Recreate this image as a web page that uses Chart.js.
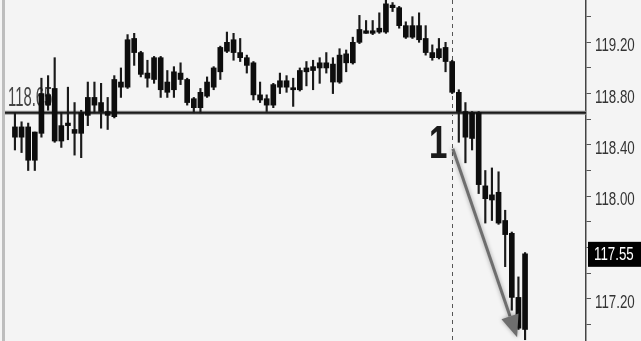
<!DOCTYPE html>
<html>
<head>
<meta charset="utf-8">
<script src="https://cdn.jsdelivr.net/npm/chart.js@4.4.1/dist/chart.umd.min.js"></script>
<style>
  html, body { margin: 0; padding: 0; background: #f4f4f4; overflow: hidden; }
  #wrap { width: 641px; height: 341px; }
</style>
</head>
<body>
<div id="wrap"><canvas id="chart"></canvas></div>
<script>
// candle values (one entry per bar)
const opens  = [118.54,118.46,118.54,118.28,118.49,118.79,118.84,118.43,118.55,118.52,
                118.49,118.63,118.77,118.73,118.66,118.62,118.89,118.85,119.23,119.12,
                118.96,118.91,119.08,118.81,118.83,118.96,118.91,118.76,118.69,118.78,
                118.85,118.97,119.13,119.22,119.12,119.08,119.04,118.79,118.76,118.71,
                118.85,118.90,118.84,118.83,118.97,118.98,119.00,119.04,119.03,118.89,
                119.11,119.04,119.20,119.29,119.27,119.28,119.28,119.49,119.47,119.33,
                119.24,119.33,119.23,119.12,119.08,119.16,119.05,118.81,118.66,118.65,
                118.65,118.08,118.01,118.03,117.81,117.71,117.21,116.96];
const highs  = [118.65,118.58,118.57,118.50,118.92,118.94,119.08,118.65,118.85,118.73,
                118.67,118.89,118.89,118.88,118.77,118.94,119.00,119.26,119.27,119.13,
                119.06,119.09,119.09,118.98,119.01,119.04,118.92,118.77,118.84,118.93,
                119.01,119.17,119.28,119.27,119.23,119.10,119.05,118.89,118.79,118.88,
                118.96,118.94,118.92,119.00,119.05,119.06,119.08,119.12,119.08,119.15,
                119.14,119.24,119.41,119.37,119.37,119.43,119.53,119.51,119.48,119.36,
                119.40,119.43,119.33,119.18,119.23,119.20,119.06,118.83,118.73,118.66,
                118.66,118.20,118.22,118.19,117.89,117.72,117.37,117.56];
const lows   = [118.36,118.34,118.20,118.20,118.46,118.67,118.42,118.38,118.44,118.32,
                118.30,118.55,118.65,118.53,118.52,118.61,118.77,118.84,119.02,118.93,
                118.85,118.88,118.77,118.77,118.77,118.87,118.71,118.65,118.65,118.77,
                118.83,118.91,119.12,119.06,119.05,118.96,118.75,118.73,118.66,118.69,
                118.80,118.81,118.70,118.82,118.86,118.83,118.88,118.96,118.80,118.88,
                118.97,119.03,119.19,119.27,119.26,119.27,119.27,119.44,119.31,119.23,
                119.23,119.20,119.10,119.06,119.07,118.97,118.80,118.42,118.26,118.36,
                118.02,117.79,117.81,117.78,117.45,117.11,116.96,116.88];
const closes = [118.46,118.54,118.28,118.50,118.80,118.71,118.43,118.55,118.57,118.49,
                118.65,118.77,118.71,118.66,118.63,118.91,118.85,119.22,119.12,118.95,
                118.92,119.08,118.83,118.89,118.97,118.91,118.73,118.69,118.81,118.89,
                119.00,119.16,119.20,119.12,119.08,119.02,118.79,118.75,118.71,118.87,
                118.90,118.85,118.83,118.98,119.00,119.01,119.04,119.00,118.89,119.10,
                119.04,119.20,119.30,119.27,119.29,119.31,119.50,119.47,119.33,119.24,
                119.33,119.22,119.12,119.08,119.15,119.05,118.81,118.66,118.46,118.45,
                118.09,117.98,117.97,117.79,117.70,117.21,116.97,117.55];

const yTicks = [117.0, 117.2, 117.4, 117.6, 117.8, 118.0, 118.2, 118.4, 118.6, 118.8, 119.0, 119.2, 119.4];
const refLevel = 118.65;
const refLabel = "118.65";
const lastPrice = 117.55;
const signalIndex = 66;
const signalText = "1";
const signalTextAt = [63.9, 118.30];
const arrowFrom = [66.1, 118.37];
const arrowTo = [75.8, 116.90];

const textFont = "'Liberation Sans', Arial, sans-serif";

function squeezedText(ctx, text, x, y, font, sx, align, color, baseline) {
  ctx.save();
  ctx.translate(x, y);
  ctx.scale(sx, 1);
  ctx.font = font;
  ctx.textAlign = align;
  ctx.textBaseline = baseline || "alphabetic";
  ctx.fillStyle = color;
  ctx.fillText(text, 0, 0);
  ctx.restore();
}

const isMajor = (v) => Math.round(v * 10) % 4 === 0;

const overlay = {
  id: "overlay",
  beforeDraw(chart) {
    const { ctx, chartArea } = chart;
    ctx.save();
    ctx.fillStyle = "#f4f4f4";
    ctx.fillRect(0, 0, chart.width, chart.height);
    ctx.fillStyle = "#bdbdbd";
    ctx.fillRect(chartArea.left - 3, 0, 3, chart.height);
    ctx.restore();
  },
  beforeDatasetsDraw(chart) {
    const { ctx, chartArea, scales } = chart;
    const x = scales.x, y = scales.y;
    ctx.save();
    // signal bar marker
    const vx = Math.round(x.getPixelForValue(signalIndex)) + 0.5;
    ctx.strokeStyle = "#555";
    ctx.lineWidth = 1;
    ctx.setLineDash([4, 4]);
    ctx.beginPath();
    ctx.moveTo(vx, chartArea.top);
    ctx.lineTo(vx, chartArea.bottom);
    ctx.stroke();
    ctx.setLineDash([]);
    // level line
    const ly = y.getPixelForValue(refLevel);
    ctx.strokeStyle = "#999";
    ctx.lineWidth = 4;
    ctx.beginPath();
    ctx.moveTo(chartArea.left, ly);
    ctx.lineTo(chartArea.right, ly);
    ctx.stroke();
    ctx.strokeStyle = "#1c1c1c";
    ctx.lineWidth = 2;
    ctx.beginPath();
    ctx.moveTo(chartArea.left, ly);
    ctx.lineTo(chartArea.right, ly);
    ctx.stroke();
    squeezedText(ctx, refLabel, chartArea.left + 3, ly - 7, "27px " + textFont, 0.55, "left", "#444");
    ctx.restore();
  },
  afterDatasetsDraw(chart) {
    const { ctx, scales } = chart;
    const x = scales.x, y = scales.y;
    ctx.save();
    squeezedText(ctx, signalText, x.getPixelForValue(signalTextAt[0]), y.getPixelForValue(signalTextAt[1]),
      "bold 46px " + textFont, 0.72, "center", "#1a1a1a");
    const x1 = x.getPixelForValue(arrowFrom[0]), y1 = y.getPixelForValue(arrowFrom[1]);
    const x2 = x.getPixelForValue(arrowTo[0]), y2 = y.getPixelForValue(arrowTo[1]);
    const ang = Math.atan2(y2 - y1, x2 - x1);
    const head = 22, half = 9;
    const bx = x2 - head * Math.cos(ang), by = y2 - head * Math.sin(ang);
    ctx.shadowColor = "rgba(0,0,0,0.35)";
    ctx.shadowBlur = 4;
    ctx.strokeStyle = "#6e6e6e";
    ctx.fillStyle = "#6e6e6e";
    ctx.lineWidth = 3;
    ctx.beginPath();
    ctx.moveTo(x1, y1);
    ctx.lineTo(bx, by);
    ctx.stroke();
    ctx.beginPath();
    ctx.moveTo(x2, y2);
    ctx.lineTo(bx + half * Math.sin(ang), by - half * Math.cos(ang));
    ctx.lineTo(bx - half * Math.sin(ang), by + half * Math.cos(ang));
    ctx.closePath();
    ctx.fill();
    ctx.restore();
  },
  afterDraw(chart) {
    const { ctx, scales } = chart;
    const y = scales.y;
    ctx.save();
    // price axis labels (narrow lettering, sitting a little under their tick)
    yTicks.filter(isMajor).forEach((v) => {
      squeezedText(ctx, v.toFixed(2), y.left + 9, y.getPixelForValue(v) + 4, "18px " + textFont, 0.74, "left", "#333", "middle");
    });
    // last price box
    const py = y.getPixelForValue(lastPrice);
    ctx.fillStyle = "#000";
    ctx.fillRect(y.left + 2, py - 12, chart.width - y.left - 2, 25);
    squeezedText(ctx, lastPrice.toFixed(2), y.left + 8, py + 1, "18px " + textFont, 0.74, "left", "#fff", "middle");
    ctx.restore();
  }
};

new Chart(document.getElementById("chart"), {
  type: "bar",
  data: {
    datasets: [
      {
        label: "body",
        data: opens.map((o, i) => ({ x: i, y: [Math.min(o, closes[i]), Math.max(o, closes[i])] })),
        backgroundColor: "#0d0d0d",
        barThickness: 5,
        minBarLength: 2,
        grouped: false,
      },
      {
        label: "wick",
        data: highs.map((h, i) => ({ x: i, y: [lows[i], h] })),
        backgroundColor: "#1a1a1a",
        barThickness: 1.5,
        grouped: false,
      },
    ],
  },
  options: {
    responsive: true,
    maintainAspectRatio: false,
    animation: false,
    layout: { padding: { left: 5, top: 0, right: 0, bottom: 0 } },
    plugins: { legend: { display: false }, tooltip: { enabled: false } },
    scales: {
      x: { type: "linear", min: -1.5, max: 86.2, offset: false, display: false },
      y: {
        position: "right",
        min: 116.87,
        max: 119.53,
        afterBuildTicks: (s) => { s.ticks = yTicks.map((v) => ({ value: v })); },
        afterFit: (s) => { s.width = 55; s.paddingTop = 0; s.paddingBottom = 0; },
        grid: { drawOnChartArea: false, drawTicks: true, tickLength: 5, color: "#555" },
        border: { display: true, color: "#444", width: 1.5 },
        ticks: { display: false, autoSkip: false },
      },
    },
  },
  plugins: [overlay],
});
</script>
</body>
</html>
